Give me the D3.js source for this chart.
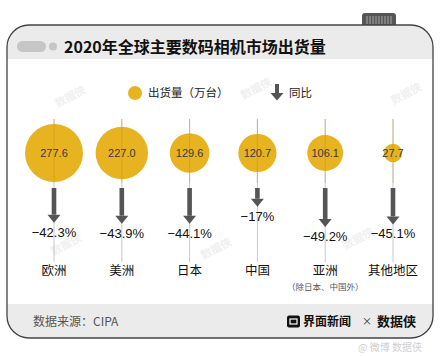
<!DOCTYPE html>
<html><head><meta charset="utf-8">
<script src="https://cdn.jsdelivr.net/npm/d3@7"></script>
<style>html,body{margin:0;padding:0;background:#fff;}svg{display:block;font-family:"Noto Sans CJK SC","Noto Sans",sans-serif;}</style>
</head><body>
<svg id="c" width="440" height="356"></svg>
<script>
const title = "2020年全球主要数码相机市场出货量";
const regions = ["欧洲","美洲","日本","中国","亚洲","其他地区"];
const subLabels = ["","","","","（除日本、中国外）",""];
const shipments = [277.6, 227.0, 129.6, 120.7, 106.1, 27.7];
const yoy = [-42.3, -43.9, -44.1, -17, -49.2, -45.1];
const yoyLabels = ["−42.3%","−43.9%","−44.1%","−17%","−49.2%","−45.1%"];
const source = "数据来源：CIPA";

const svg = d3.select("#c");
const gold = "#E8B321", dark = "#555";

// card
const L=7,R=433,T=25,B=338,rad=22;
svg.append("rect").attr("x",362).attr("y",13).attr("width",34).attr("height",16).attr("rx",3).attr("fill","#555");
for(let i=0;i<9;i++) svg.append("line").attr("x1",367+i*3).attr("x2",367+i*3).attr("y1",16).attr("y2",24).attr("stroke","#aaa").attr("stroke-width",1);
const defs = svg.append("defs");
defs.append("clipPath").attr("id","card").append("rect").attr("x",L).attr("y",T).attr("width",R-L).attr("height",B-T).attr("rx",rad);
const cg = svg.append("g").attr("clip-path","url(#card)");
cg.append("rect").attr("x",L).attr("y",T).attr("width",R-L).attr("height",B-T).attr("fill","#fff");
cg.append("rect").attr("x",L).attr("y",T).attr("width",R-L).attr("height",34).attr("fill","#ebebeb");
cg.append("rect").attr("x",L).attr("y",304).attr("width",R-L).attr("height",B-304).attr("fill","#ebebeb");
svg.append("rect").attr("x",L).attr("y",T).attr("width",R-L).attr("height",B-T).attr("rx",rad).attr("fill","none").attr("stroke","#444").attr("stroke-width",1.3);

// header
svg.append("rect").attr("x",17).attr("y",41).attr("width",29).attr("height",11).attr("rx",5.5).attr("fill","#c6c6c6");
svg.append("circle").attr("cx",53).attr("cy",46.5).attr("r",4).attr("fill","#c6c6c6");
svg.append("text").attr("x",64).attr("y",53).attr("font-size",16).attr("font-weight","bold").attr("fill","#111").text(title);

// watermarks
[[72,100],[258,92],[408,97],[68,248],[218,252],[360,242]].forEach(([x,y])=>{
  svg.append("text").attr("transform",`translate(${x},${y}) rotate(-28)`).attr("text-anchor","middle")
    .attr("font-size",11).attr("font-weight","bold").attr("fill","#f0f0f0").text("数据侠");
});

// legend
svg.append("circle").attr("cx",135).attr("cy",93).attr("r",7).attr("fill",gold);
svg.append("text").attr("x",148).attr("y",97).attr("font-size",11.5).attr("fill","#222").text("出货量（万台）");
svg.append("rect").attr("x",275).attr("y",84).attr("width",4).attr("height",9).attr("fill",dark);
svg.append("path").attr("d","M270.5,93 L283.5,93 L277,100.5 Z").attr("fill",dark);
svg.append("text").attr("x",289).attr("y",97).attr("font-size",11.5).attr("fill","#222").text("同比");

// scales
const x = d3.scalePoint().domain(regions).range([54,393]);
const r = d3.scaleSqrt().domain([0, d3.max(shipments)]).range([0,29]);
const len = d3.scaleLinear().domain([0,50]).range([0,31.5]);
const cy = 153, arrowTop = 188, headH = 8;

const g = svg.selectAll("g.col").data(regions).join("g").attr("class","col")
  .attr("transform",d=>`translate(${x(d)},0)`);
g.append("line").attr("y1",119).attr("y2",262).attr("stroke","#bbb").attr("stroke-width",0.8);
g.append("circle").attr("cy",cy).attr("r",(d,i)=>r(shipments[i])).attr("fill",gold);
g.append("line").attr("y1",119).attr("y2",cy+30).attr("stroke","#b08a20").attr("stroke-width",0.6).attr("opacity",0.6);
g.append("text").attr("y",cy+4).attr("text-anchor","middle").attr("font-size",11).attr("fill","#3a3a3a")
  .attr("font-family","Liberation Sans, Arial, sans-serif").text((d,i)=>shipments[i].toFixed(1));
g.append("rect").attr("x",-2.3).attr("y",arrowTop).attr("width",4.6).attr("height",(d,i)=>len(-yoy[i])).attr("fill",dark);
g.append("path").attr("d",(d,i)=>{const s=arrowTop+len(-yoy[i]);return `M-6.5,${s} L6.5,${s} L0,${s+headH} Z`;}).attr("fill",dark);
g.append("text").attr("y",(d,i)=>arrowTop+len(-yoy[i])+headH+14).attr("text-anchor","middle").attr("font-size",13)
  .attr("fill","#111").attr("font-family","Liberation Sans, Arial, sans-serif").text((d,i)=>yoyLabels[i]);
g.append("text").attr("y",275).attr("text-anchor","middle").attr("font-size",12.5).attr("fill","#111").text(d=>d);
g.append("text").attr("y",290).attr("text-anchor","middle").attr("font-size",8.5).attr("fill","#555").text((d,i)=>subLabels[i]);

// footer
svg.append("text").attr("x",33).attr("y",326).attr("font-size",12).attr("fill","#555").text(source);
svg.append("rect").attr("x",287).attr("y",315.5).attr("width",13).attr("height",12).attr("rx",2).attr("fill","#111");
svg.append("rect").attr("x",290).attr("y",319).attr("width",7).attr("height",5).attr("fill","none").attr("stroke","#fff").attr("stroke-width",1.2);
svg.append("text").attr("x",303).attr("y",326).attr("font-size",12).attr("font-weight","bold").attr("fill","#111").text("界面新闻");
svg.append("text").attr("x",362).attr("y",325).attr("font-size",10).attr("fill","#333").text("×");
svg.append("text").attr("x",377).attr("y",326).attr("font-size",13).attr("font-weight","bold").attr("fill","#111").text("数据侠");
svg.append("text").attr("x",358).attr("y",351).attr("font-size",10).attr("fill","#cfcfcf").text("@ 微博 数据侠");
</script>
</body></html>
